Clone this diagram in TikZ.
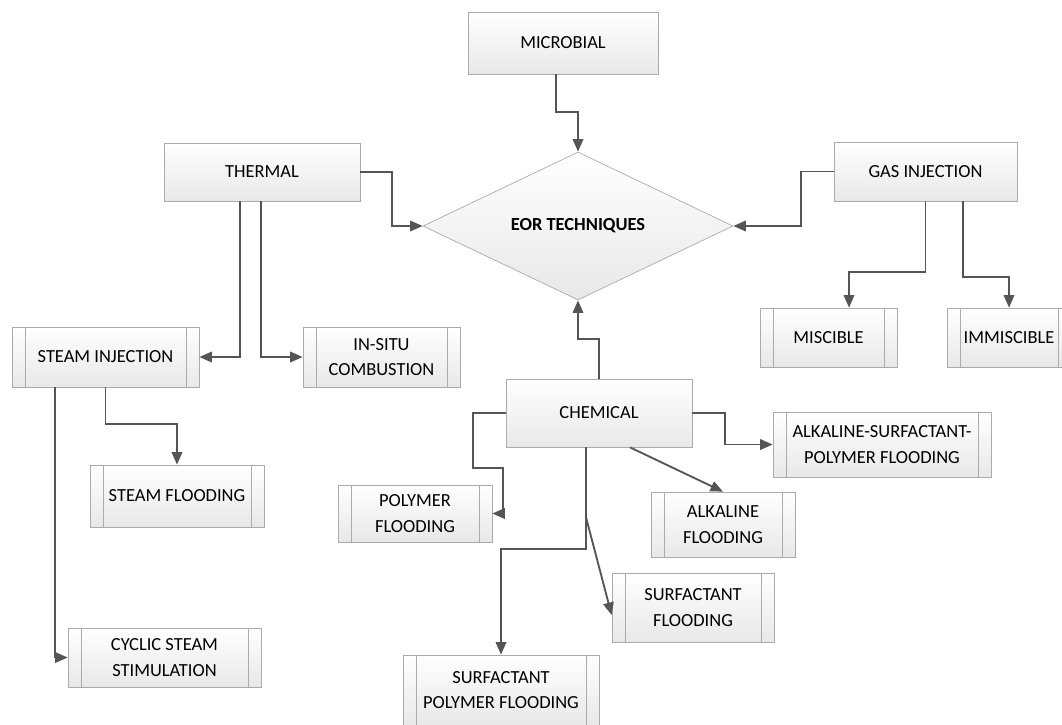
\documentclass[tikz,border=0pt]{standalone}
\usepackage{fontspec}
\setmainfont{Carlito}
\usetikzlibrary{shapes.geometric,arrows.meta}
\definecolor{boxline}{HTML}{ABABAB}
\definecolor{boxfill}{HTML}{E8E8E8}
\definecolor{arrowgray}{HTML}{555555}

\begin{document}
\begin{tikzpicture}[node distance=3.7cm,
        every node/.style={align=center, font=\fontsize{10.5}{14.5}\selectfont},
        box/.style={draw=boxline, top color=white, bottom color=boxfill, inner sep=0pt},
        subbox/.style={box, path picture={
            \draw[boxline] ([xshift=0.26cm]path picture bounding box.north west) -- ([xshift=0.26cm]path picture bounding box.south west);
            \draw[boxline] ([xshift=-0.26cm]path picture bounding box.north east) -- ([xshift=-0.26cm]path picture bounding box.south east);}},
        decision/.style={diamond, draw=boxline, top color=white, bottom color=boxfill, shape aspect=2,
            minimum width=6.2cm, minimum height=2.96cm, inner sep=0pt},
        flow/.style={draw=arrowgray, line width=1.05pt, -{Triangle[length=2.5mm, width=2.1mm]}}]
        \useasboundingbox (0,0) rectangle (21.24,-14.48);

        % the four families round the diamond
        \node[decision] (eor) at (11.56,-4.52) {\textbf{EOR TECHNIQUES}};
        \node[box, minimum width=3.8cm, minimum height=1.24cm] (microbial) [node distance=3.66cm, above of=eor, xshift=-0.30cm] {MICROBIAL};
        \node[box, minimum width=3.92cm, minimum height=1.16cm] (thermal) [node distance=6.32cm, left of=eor, yshift=1.08cm] {THERMAL};
        \node[box, minimum width=3.66cm, minimum height=1.18cm] (gas) [node distance=6.95cm, right of=eor, yshift=1.09cm] {GAS INJECTION};
        \node[box, minimum width=3.72cm, minimum height=1.36cm] (chemical) [node distance=3.74cm, below of=eor, xshift=0.42cm] {CHEMICAL};

        % thermal methods
        \node[subbox, minimum width=3.74cm, minimum height=1.2cm] (steaminj) [below of=thermal, xshift=-3.13cm] {STEAM INJECTION};
        \node[subbox, minimum width=3.14cm, minimum height=1.2cm] (insitu) [below of=thermal, xshift=2.39cm] {IN-SITU\\COMBUSTION};
        \node[subbox, minimum width=3.48cm, minimum height=1.24cm] (steamflood) [node distance=2.78cm, below of=steaminj, xshift=1.43cm] {STEAM FLOODING};
        \node[subbox, minimum width=3.86cm, minimum height=1.18cm] (cyclic) [node distance=6.01cm, below of=steaminj, xshift=1.18cm] {CYCLIC STEAM\\STIMULATION};

        % gas methods
        \node[subbox, minimum width=2.74cm, minimum height=1.18cm] (miscible) [node distance=3.32cm, below of=gas, xshift=-1.94cm] {MISCIBLE};
        \node[subbox, minimum width=2.48cm, minimum height=1.18cm] (immiscible) [node distance=3.32cm, below of=gas, xshift=1.67cm] {IMMISCIBLE};

        % chemical methods
        \node[subbox, minimum width=3.08cm, minimum height=1.14cm] (polymer) [node distance=2.01cm, below of=chemical, xshift=-3.68cm] {POLYMER\\FLOODING};
        \node[subbox, minimum width=2.88cm, minimum height=1.3cm] (alkaline) [node distance=2.23cm, below of=chemical, xshift=2.48cm] {ALKALINE\\FLOODING};
        \node[subbox, minimum width=4.36cm, minimum height=1.3cm] (asp) [node distance=5.66cm, right of=chemical, yshift=-0.63cm] {ALKALINE-SURFACTANT-\\POLYMER FLOODING};
        \node[subbox, minimum width=3.24cm, minimum height=1.38cm] (surfflood) [node distance=3.89cm, below of=chemical, xshift=1.88cm] {SURFACTANT\\FLOODING};
        \node[subbox, minimum width=3.92cm, minimum height=1.4cm] (surfpoly) [node distance=5.54cm, below of=chemical, xshift=-1.96cm] {SURFACTANT\\POLYMER FLOODING};

        \draw[flow] ([xshift=-0.14cm]microbial.south) -- ++(0,-0.76) -| (eor.north);
        \draw[flow] (thermal.east) -- ++(0.64,0) |- (eor.west);
        \draw[flow] (gas.west) -- ++(-0.66,0) |- (eor.east);
        \draw[flow] (chemical.north) -- ++(0,0.8) -| (eor.south);

        \draw[flow] ([xshift=-0.44cm]thermal.south) |- (steaminj.east);
        \draw[flow] ([xshift=-0.02cm]thermal.south) |- (insitu.west);
        \draw[flow] (steaminj.south) -- ++(0,-0.74) -| (steamflood.north);
        \draw[flow] ([xshift=-1.01cm]steaminj.south) |- (cyclic.west);

        \draw[flow] (gas.south) -- ++(0,-1.42) -| ([xshift=0.41cm]miscible.north);
        \draw[flow] ([xshift=0.75cm]gas.south) -- ++(0,-1.52) -| (immiscible.north);

        \draw[flow] (chemical.west) -- ++(-0.66,0) -- ++(0,-1.1) -- ++(0.6,0) |- (polymer.east);
        \draw[flow] (chemical.east) -- ++(0.66,0) |- (asp.west);
        \draw[flow] ([xshift=0.62cm]chemical.south) -- (alkaline.north);
        \draw[flow] ([xshift=-0.26cm]chemical.south) -- ++(0,-2.04) -| (surfpoly.north);
        \draw[flow] ([xshift=-0.26cm, yshift=-1.4cm]chemical.south) -- ([yshift=-0.15cm]surfflood.west);
    \end{tikzpicture}
\end{document}
